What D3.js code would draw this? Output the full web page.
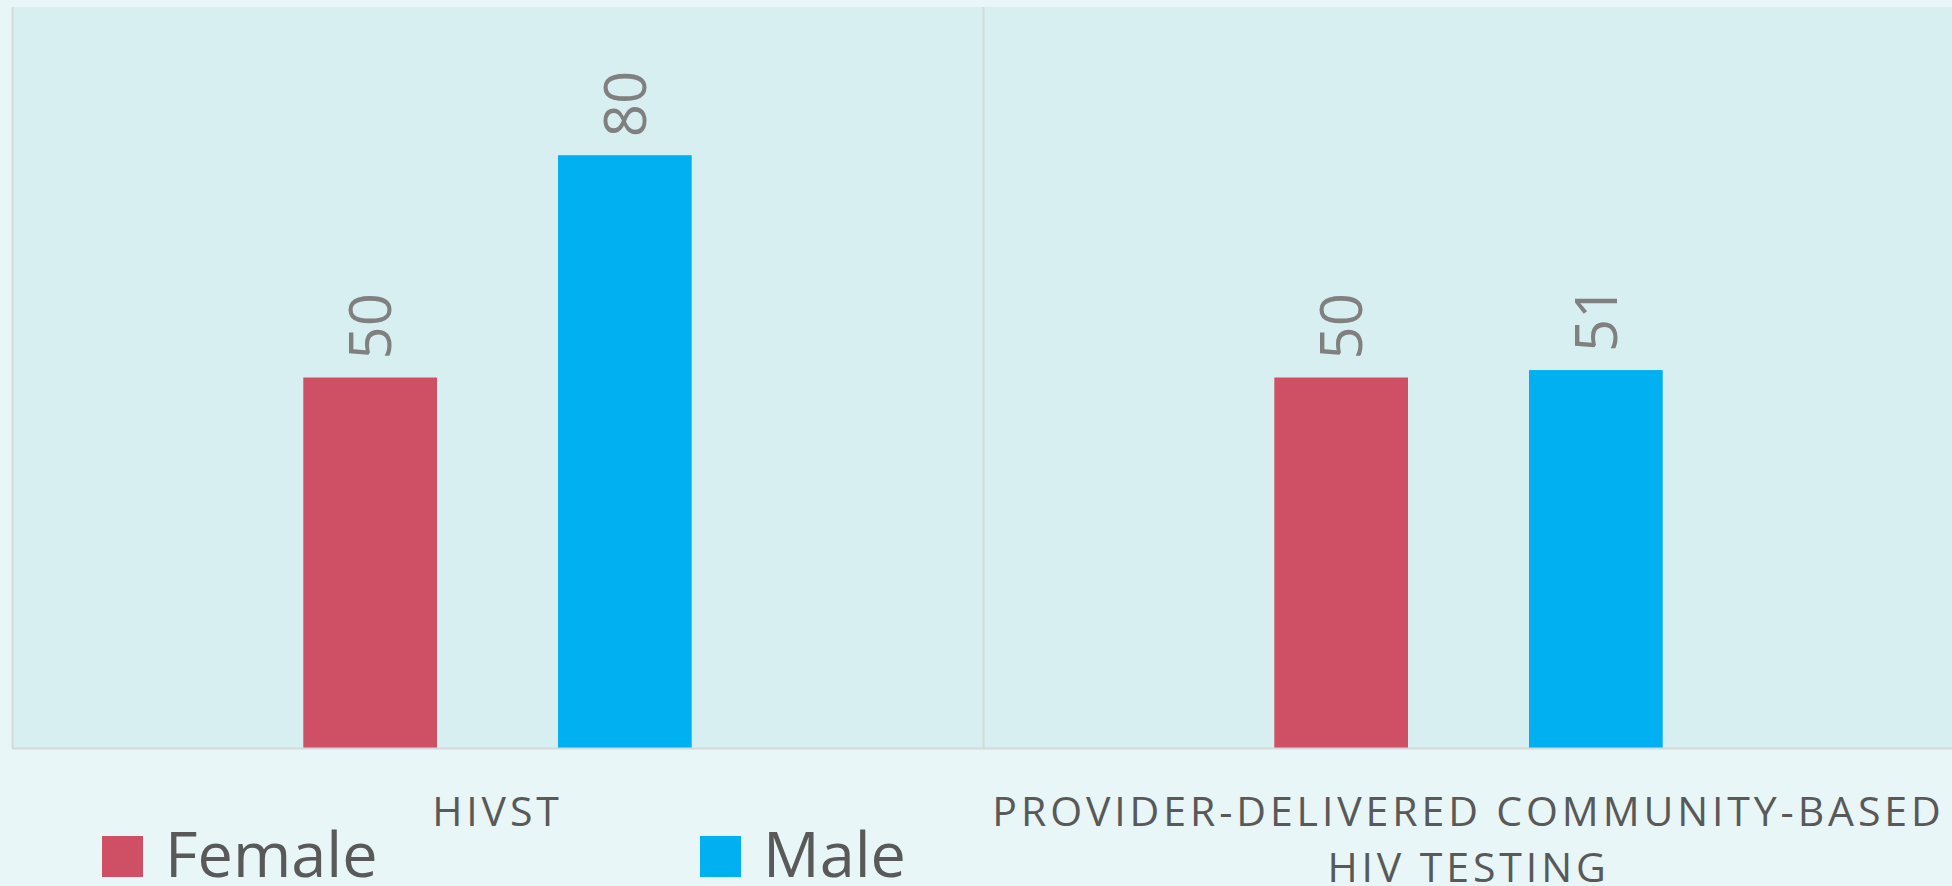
<!DOCTYPE html>
<html>
<head>
<meta charset="utf-8">
<script src="https://cdn.jsdelivr.net/npm/d3@7"></script>
<style>
  html, body { margin: 0; padding: 0; background: #e8f6f7; overflow: hidden; }
  svg { display: block; font-family: "Open Sans", sans-serif; }
</style>
</head>
<body>
<div id="chart"></div>
<script>
const categories = ['HIVST', 'Provider-delivered community-based HIV testing'];
const series = ['Female', 'Male'];
const female = [50, 50];
const male = [80, 51];
const colors = ['#cf5064', '#00b0f0'];

const width = 1952;
const height = 886;
const margin = {top: 7, right: -2, bottom: 138, left: 12};
const plotBottom = height - margin.bottom;

const values = [female, male];
const rows = categories.map((c, i) => ({
  name: c,
  bars: series.map((s, j) => ({series: s, value: values[j][i], color: colors[j]}))
}));

const svg = d3.select('#chart')
  .append('svg')
  .attr('width', width)
  .attr('height', height);

svg.append('rect')
  .attr('width', width)
  .attr('height', height)
  .attr('fill', '#e8f6f7');

const x = d3.scaleBand()
  .domain(categories)
  .range([margin.left, width - margin.right])
  .padding(0);

const bw = x.bandwidth();
const xInner = d3.scaleBand()
  .domain(series)
  .range([bw * 0.3, bw * 0.7])
  .paddingInner(0.475);

const y = d3.scaleLinear()
  .domain([0, 100])
  .range([plotBottom, margin.top]);

// plot area
svg.append('rect')
  .attr('x', margin.left)
  .attr('y', margin.top)
  .attr('width', width - margin.right - margin.left)
  .attr('height', plotBottom - margin.top)
  .attr('fill', '#d8eff2');

// category separators
svg.append('g')
  .selectAll('line')
  .data(categories)
  .enter()
  .append('line')
  .attr('x1', d => x(d) + 0.5)
  .attr('x2', d => x(d) + 0.5)
  .attr('y1', margin.top)
  .attr('y2', plotBottom)
  .attr('stroke', '#d4d9da')
  .attr('stroke-width', 2);

const groups = svg.append('g')
  .selectAll('g')
  .data(rows)
  .enter()
  .append('g')
  .attr('transform', d => `translate(${x(d.name)}, 0)`);

groups.selectAll('rect')
  .data(d => d.bars)
  .enter()
  .append('rect')
  .attr('x', d => xInner(d.series))
  .attr('y', d => y(d.value))
  .attr('width', xInner.bandwidth())
  .attr('height', d => plotBottom - y(d.value))
  .attr('fill', d => d.color);

groups.selectAll('text')
  .data(d => d.bars)
  .enter()
  .append('text')
  .text(d => d.value)
  .attr('transform', d => `translate(${xInner(d.series) + xInner.bandwidth() / 2}, ${y(d.value) - 18}) rotate(-90)`)
  .attr('dy', '0.36em')
  .attr('fill', '#808080')
  .attr('font-size', '58px');

// baseline
svg.append('line')
  .attr('x1', margin.left)
  .attr('x2', width)
  .attr('y1', plotBottom + 0.5)
  .attr('y2', plotBottom + 0.5)
  .attr('stroke', '#d4d9da')
  .attr('stroke-width', 2);

// category labels, wrapped to the band
const labels = svg.append('g')
  .selectAll('text')
  .data(categories)
  .enter()
  .append('text')
  .attr('x', d => x(d) + bw / 2)
  .attr('y', 826)
  .attr('text-anchor', 'middle')
  .attr('fill', '#595959')
  .attr('font-size', '41px')
  .attr('letter-spacing', '3.9px');

labels.each(function(d) {
  const el = d3.select(this);
  const words = d.toUpperCase().split(' ');
  let line = [];
  let tspan = el.append('tspan').attr('x', x(d) + bw / 2).attr('dy', 0);
  words.forEach(w => {
    line.push(w);
    tspan.text(line.join(' '));
    if (tspan.node().getComputedTextLength() > bw - 10 && line.length > 1) {
      line.pop();
      tspan.text(line.join(' '));
      line = [w];
      tspan = el.append('tspan').attr('x', x(d) + bw / 2).attr('dy', 56).text(w);
    }
  });
});

// legend
const legendX = [102, 700];
const legend = svg.append('g')
  .selectAll('g')
  .data(series)
  .enter()
  .append('g')
  .attr('transform', (d, i) => `translate(${legendX[i]}, 836)`);

legend.append('rect')
  .attr('width', 41)
  .attr('height', 41)
  .attr('fill', (d, i) => colors[i]);

legend.append('text')
  .text(d => d)
  .attr('x', 63)
  .attr('y', 41)
  .attr('fill', '#595959')
  .attr('font-size', '63px');
</script>
</body>
</html>
